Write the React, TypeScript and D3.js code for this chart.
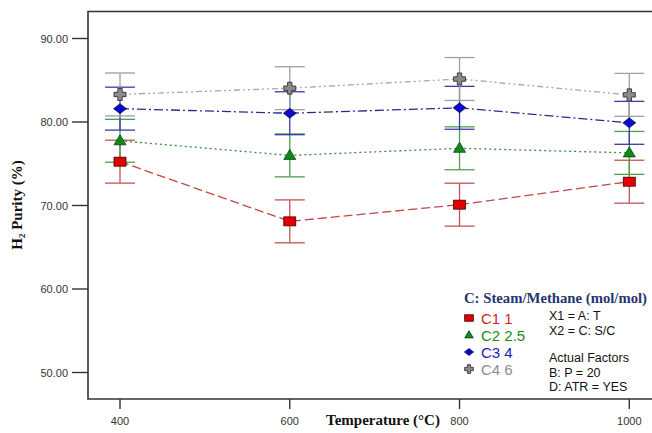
import React from "react";
import * as d3 from "d3";

const temps = [400, 600, 800, 1000];
const xTicks = [400, 600, 800, 1000];
const yTicks = [50, 60, 70, 80, 90];
const c1 = [75.25, 68.1, 70.1, 72.85];
const c2 = [77.75, 76.0, 76.85, 76.3];
const c3 = [81.6, 81.05, 81.7, 79.9];
const c4 = [83.3, 84.05, 85.15, 83.25];
const halfCI = [2.57, 2.57, 2.57, 2.57];
const seriesNames = ["C1 1", "C2 2.5", "C3 4", "C4 6"];
const factorLines1 = ["X1 = A: T", "X2 = C: S/C"];
const factorLines2 = ["Actual Factors", "B: P = 20", "D: ATR = YES"];

const W = 652, H = 433;
const frame = { l: 88, t: 11.5, b: 399, r: 656 };
const SERIF = "'Liberation Serif', 'DejaVu Serif', 'Times New Roman', serif";
const SANS = "Arial, 'Liberation Sans', sans-serif";

export default function App() {
  const x = d3.scaleLinear().domain([400, 1000]).range([120, 629.3]);
  const y = d3.scaleLinear().domain([50, 90]).range([372.5, 38.5]);

  const series = [
    { v: c1, line: "#c04848", bar: "#c05454", fill: "#e00000", txt: "#d81e1e", dash: "9,4", shape: "square" },
    { v: c2, line: "#3c8c3c", bar: "#4e9e4e", fill: "#108a10", txt: "#1a8c1a", dash: "2,3", shape: "triangle" },
    { v: c3, line: "#2a2a8a", bar: "#3a3aa8", fill: "#0a0ac8", txt: "#1c1cb4", dash: "9,3,2,3", shape: "diamond" },
    { v: c4, line: "#a8a8a8", bar: "#a0a0a0", fill: "#8a8a8a", txt: "#8c8c8c", dash: "6,3,2,3,2,3", shape: "cross" },
  ];

  const line = d3.line<number>().x((_, i) => x(temps[i])).y((d) => y(d));

  const marker = (shape: string, cx: number, cy: number, fill: string, s = 1, key?: any) => {
    if (shape === "square")
      return <rect key={key} x={cx - 6 * s} y={cy - 4.5 * s} width={12 * s} height={9 * s} fill={fill} stroke="#400" strokeWidth={0.8} />;
    if (shape === "triangle")
      return <path key={key} d={`M${cx},${cy - 6 * s}L${cx + 6 * s},${cy + 4 * s}L${cx - 6 * s},${cy + 4 * s}Z`} fill={fill} stroke="#042" strokeWidth={0.8} />;
    if (shape === "diamond")
      return <path key={key} d={`M${cx},${cy - 5 * s}L${cx + 6.5 * s},${cy}L${cx},${cy + 5 * s}L${cx - 6.5 * s},${cy}Z`} fill={fill} stroke="#004" strokeWidth={0.6} />;
    const a = 2.2 * s, b = 6 * s;
    return (
      <path key={key}
        d={`M${cx - a},${cy - b}H${cx + a}V${cy - a}H${cx + b}V${cy + a}H${cx + a}V${cy + b}H${cx - a}V${cy + a}H${cx - b}V${cy - a}H${cx - a}Z`}
        fill={fill} stroke="#333" strokeWidth={0.9} />
    );
  };

  return (
    <svg width={W} height={H} style={{ position: "absolute", left: 0, top: 0, background: "#fff" }}>
      <rect x={0} y={0} width={W} height={H} fill="#fff" />
      <path d={`M${frame.r},${frame.t}H${frame.l}V${frame.b}H${frame.r}`} fill="none" stroke="#333" strokeWidth={1.6} />
      {yTicks.map((t) => (
        <g key={t}>
          <line x1={72} x2={frame.l} y1={y(t)} y2={y(t)} stroke="#333" strokeWidth={1.4} />
          <text x={68} y={y(t) + 4} textAnchor="end" fontFamily={SANS} fontSize={11} fill="#333">
            {t.toFixed(2)}
          </text>
        </g>
      ))}
      {xTicks.map((t) => (
        <g key={t}>
          <line x1={x(t)} x2={x(t)} y1={frame.b} y2={frame.b + 10} stroke="#333" strokeWidth={1.4} />
          <text x={x(t)} y={425} textAnchor="middle" fontFamily={SANS} fontSize={11} fill="#333">
            {t}
          </text>
        </g>
      ))}
      <text x={383} y={425} textAnchor="middle" fontFamily={SERIF} fontWeight="bold" fontSize={15} fill="#111">
        Temperature (°C)
      </text>
      <text transform="translate(22,205) rotate(-90)" textAnchor="middle" fontFamily={SERIF} fontWeight="bold" fontSize={15} fill="#111">
        H<tspan fontSize={9} dy={3}>2</tspan><tspan dy={-3}> Purity (%)</tspan>
      </text>
      {series.map((s, k) => (
        <path key={"l" + k} d={line(s.v) || ""} fill="none" stroke={s.line} strokeWidth={1.3} strokeDasharray={s.dash} />
      ))}
      {series.map((s, k) =>
        s.v.map((v, i) => {
          const cx = x(temps[i]);
          const lo = y(v - halfCI[i]), hi = y(v + halfCI[i]);
          return (
            <g key={"e" + k + "-" + i} stroke={s.bar} strokeWidth={1.3}>
              <line x1={cx} x2={cx} y1={lo} y2={hi} />
              <line x1={cx - 15} x2={cx + 15} y1={lo} y2={lo} />
              <line x1={cx - 15} x2={cx + 15} y1={hi} y2={hi} />
            </g>
          );
        })
      )}
      {series.map((s, k) => s.v.map((v, i) => marker(s.shape, x(temps[i]), y(v), s.fill, 1, "m" + k + "-" + i)))}
      <text x={464} y={303} fontFamily={SERIF} fontWeight="bold" fontSize={15} fill="#1f3570"
        textLength={183} lengthAdjust="spacingAndGlyphs">
        C: Steam/Methane (mol/mol)
      </text>
      {series.map((s, k) => (
        <g key={"lg" + k}>
          {marker(s.shape, 469, 318 + k * 17, s.fill, 0.72)}
          <text x={481} y={323.5 + k * 17} fontFamily={SANS} fontSize={15} fill={s.txt}>
            {seriesNames[k]}
          </text>
        </g>
      ))}
      {factorLines1.map((t, i) => (
        <text key={t} x={549} y={320 + i * 15} fontFamily={SANS} fontSize={12.5} fill="#111">{t}</text>
      ))}
      {factorLines2.map((t, i) => (
        <text key={t} x={549} y={362 + i * 14.5} fontFamily={SANS} fontSize={12.5} fill="#111">{t}</text>
      ))}
    </svg>
  );
}
